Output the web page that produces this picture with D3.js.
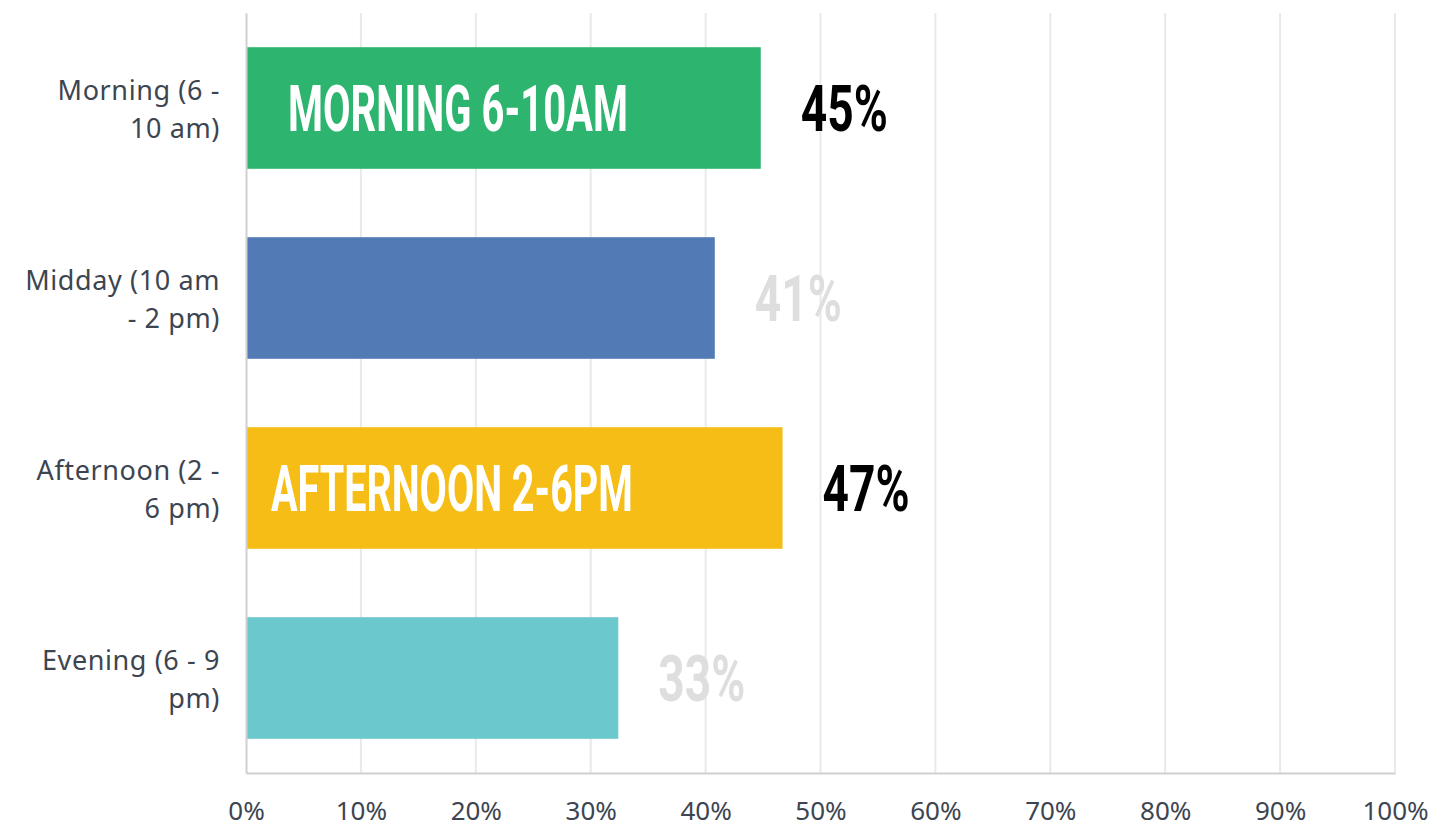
<!DOCTYPE html>
<html>
<head>
<meta charset="utf-8">
<script src="https://cdn.jsdelivr.net/npm/d3@7"></script>
<style>
  body { margin: 0; background: #fff; }
  svg { display: block; }
</style>
</head>
<body>
<script>
var width = 1448,
    height = 827;

var margin = { top: 13, right: 53, bottom: 54, left: 246 };

// data
var categories = ["Morning (6 -\n10 am)", "Midday (10 am\n- 2 pm)", "Afternoon (2 -\n6 pm)", "Evening (6 - 9\npm)"];
var values = [0.448, 0.408, 0.467, 0.324];
var valueLabels = ["45%", "41%", "47%", "33%"];
var barColors = ["#2db56f", "#527bb5", "#f5bd16", "#6bc8cc"];
var valueLabelColors = ["#000000", "#dfdedf", "#000000", "#dfdedf"];
var bannerTexts = ["MORNING 6-10AM", "", "AFTERNOON 2-6PM", ""];
var tickValues = [0, 0.1, 0.2, 0.3, 0.4, 0.5, 0.6, 0.7, 0.8, 0.9, 1.0];
// end data

var svg = d3.select("body").append("svg")
    .attr("width", width)
    .attr("height", height);

var plotW = width - margin.left - margin.right,
    plotH = height - margin.top - margin.bottom;

var x = d3.scaleLinear().domain([0, 1]).range([0, plotW]);
var y = d3.scaleBand().domain(categories).range([0, plotH]).paddingInner(0.36).paddingOuter(0.18);

var g = svg.append("g")
    .attr("transform", "translate(" + margin.left + "," + margin.top + ")");

// squeeze a text horizontally to a given width (condensed look)
function condense(sel, targetW, tx, ty) {
    sel.each(function() {
        var w = this.getComputedTextLength();
        d3.select(this).attr("transform", "translate(" + tx + "," + ty + ") scale(" + (targetW / w) + ",1)");
    });
}

// grid
g.selectAll(".grid")
    .data(tickValues.slice(1))
    .enter().append("line")
    .attr("x1", d => x(d)).attr("x2", d => x(d))
    .attr("y1", 0).attr("y2", plotH)
    .attr("stroke", "#e9e9e9")
    .attr("stroke-width", 2);

// bars
g.selectAll(".bar")
    .data(categories)
    .enter().append("rect")
    .attr("x", 0)
    .attr("y", d => y(d))
    .attr("width", (d, i) => x(values[i]))
    .attr("height", y.bandwidth())
    .attr("fill", (d, i) => barColors[i]);

// banner text inside bars
var bannerWidths = [340, 0, 362, 0];
var bannerX = [42, 0, 25, 0];
categories.forEach(function(c, i) {
    if (bannerTexts[i] === "") return;
    g.append("text")
        .attr("font-family", "Roboto, 'DejaVu Sans Condensed', sans-serif")
        .attr("font-weight", 700)
        .attr("font-size", 64)
        .attr("fill", "#fff")
        .text(bannerTexts[i])
        .call(condense, bannerWidths[i], bannerX[i], y(c) + y.bandwidth() / 2 + 23);
});

// value labels
categories.forEach(function(c, i) {
    g.append("text")
        .attr("font-family", "Roboto, 'DejaVu Sans Condensed', sans-serif")
        .attr("font-weight", 700)
        .attr("font-size", 64)
        .attr("fill", valueLabelColors[i])
        .text(valueLabels[i])
        .call(condense, 87, x(values[i]) + 40, y(c) + y.bandwidth() / 2 + 23);
});

// axes
var xAxis = d3.axisBottom(x)
    .tickValues(tickValues)
    .tickFormat(d3.format(".0%"))
    .tickSize(0)
    .tickPadding(29);

var xAxisG = g.append("g")
    .attr("transform", "translate(0," + plotH + ")")
    .call(xAxis);
xAxisG.select(".domain").attr("stroke", "#d0d0d0").attr("stroke-width", 2);
xAxisG.selectAll("text")
    .attr("font-family", "'Noto Sans', sans-serif")
    .attr("font-size", 26)
    .attr("fill", "#3d4550");

var yAxisG = g.append("g")
    .call(d3.axisLeft(y).tickSize(0).tickFormat(""));
yAxisG.select(".domain").attr("stroke", "#d0d0d0").attr("stroke-width", 2);

// category labels
var catLabels = g.selectAll(".cat")
    .data(categories)
    .enter().append("text")
    .attr("text-anchor", "end")
    .attr("font-family", "'Noto Sans', sans-serif")
    .attr("font-size", 27)
    .attr("letter-spacing", 0.6)
    .attr("fill", "#3d4550")
    .attr("y", d => y(d) + y.bandwidth() / 2 - 8);

catLabels.selectAll("tspan")
    .data(d => d.split("\n"))
    .enter().append("tspan")
    .attr("x", -26)
    .attr("dy", (d, i) => i === 0 ? 0 : 38)
    .text(d => d);
</script>
</body>
</html>
